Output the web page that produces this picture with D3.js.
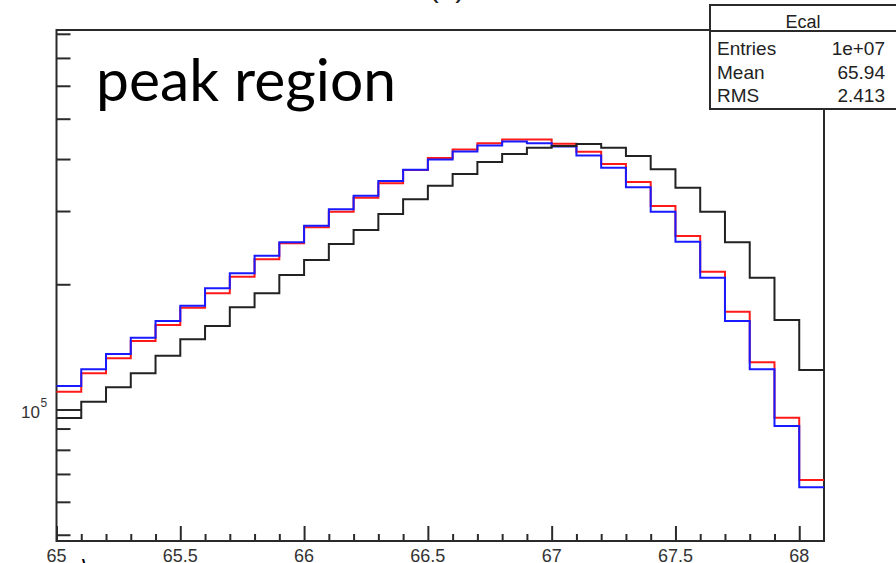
<!DOCTYPE html>
<html>
<head>
<meta charset="utf-8">
<script src="https://cdn.jsdelivr.net/npm/d3@7"></script>
<style>
  html, body { margin: 0; padding: 0; background: #fff; }
  svg { display: block; }
</style>
</head>
<body>
<svg id="chart" width="896" height="563"></svg>
<script>
// ---- data ----
const binStart = 65.0;
const binWidth = 0.1;
const blackCounts = [95400,104400,113100,122200,134700,147500,158700,176100,190200,210600,228700,249900,270100,295100,320100,345100,368300,393600,411300,425900,429900,434700,425900,406900,377900,341400,298900,252200,207400,164100,124500];
const redCounts   = [110400,122200,132800,146100,159600,175700,190200,208600,229600,250900,274200,298900,322900,349800,376400,402300,421700,436400,445700,445700,435400,416600,389100,352300,308500,261300,214400,171800,129900,95600,67700];
const blueCounts  = [113900,124900,136000,148800,163200,177600,195600,212600,234200,252200,276600,302900,326500,354200,377000,399000,417100,431100,440800,436400,428800,408000,381300,342100,298900,253100,207400,163200,124900,91300,65000];
const xMajorTicks = [65, 65.5, 66, 66.5, 67, 67.5, 68];
const xTickLabels = ["65", "65.5", "66", "66.5", "67", "67.5", "68"];
const yMinorTicks = [5e4,6e4,7e4,8e4,9e4,2e5,3e5,4e5,5e5,6e5,7e5,8e5];
const yMajorTicks = [1e5];
const statsTitle = "Ecal";
const statsNames = ["Entries", "Mean", "RMS"];
const statsValues = ["1e+07", "65.94", "2.413"];
const overlayText = "peak region";

// ---- layout ----
const L = 56.5, R = 824, T = 30, B = 541;
const svg = d3.select("#chart");
const x = d3.scaleLinear().domain([65, 68.1]).range([L, R]);
const y = d3.scaleLog().domain([48300, 817000]).range([B, T]);
const frameColor = "#2a2a2a";

// stray fragment of a cut-off title
svg.append("text").attr("x", 447).attr("y", -3).attr("text-anchor", "middle")
  .attr("font-family", "Liberation Sans, Arial, sans-serif").attr("font-size", 30)
  .attr("fill", "#222").text("(a)");

// frame
svg.append("rect").attr("x", L).attr("y", T).attr("width", R - L).attr("height", B - T)
  .attr("fill", "none").attr("stroke", frameColor).attr("stroke-width", 2);

// x ticks
const xMinor = d3.range(31).map(i => +(65 + i * 0.1).toFixed(1)).filter(v => !xMajorTicks.includes(v));
const gxm = svg.append("g").attr("transform", `translate(0,${B})`)
  .call(d3.axisTop(x).tickValues(xMinor).tickSize(7).tickFormat(""));
const gxM = svg.append("g").attr("transform", `translate(0,${B})`)
  .call(d3.axisTop(x).tickValues(xMajorTicks).tickSize(15).tickFormat(""));
[gxm, gxM].forEach(g => {
  g.select(".domain").remove();
  g.selectAll(".tick line").attr("stroke", frameColor).attr("stroke-width", 2);
});
svg.append("g").selectAll("text").data(xMajorTicks).join("text")
  .attr("x", d => x(d)).attr("y", 562).attr("text-anchor", "middle")
  .attr("font-family", "Liberation Sans, Arial, sans-serif").attr("font-size", 18)
  .attr("fill", "#333").text((d, i) => xTickLabels[i]);

// y ticks
const gym = svg.append("g").attr("transform", `translate(${L},0)`)
  .call(d3.axisRight(y).tickValues(yMinorTicks).tickSize(14).tickFormat(""));
const gyM = svg.append("g").attr("transform", `translate(${L},0)`)
  .call(d3.axisRight(y).tickValues(yMajorTicks).tickSize(25).tickFormat(""));
[gym, gyM].forEach(g => {
  g.select(".domain").remove();
  g.selectAll(".tick line").attr("stroke", frameColor).attr("stroke-width", 2);
});
yMajorTicks.forEach(v => {
  svg.append("text").attr("x", 40).attr("y", y(v) + 8).attr("text-anchor", "end")
    .attr("font-family", "Liberation Sans, Arial, sans-serif").attr("font-size", 17).attr("fill", "#333")
    .text("10");
  svg.append("text").attr("x", 40.5).attr("y", y(v) - 3)
    .attr("font-family", "Liberation Sans, Arial, sans-serif").attr("font-size", 12).attr("fill", "#333")
    .text(String(Math.round(Math.log10(v))));
});

// histograms
function stepPoints(counts) {
  const pts = [];
  counts.forEach((c, i) => {
    const x0 = binStart + i * binWidth, x1 = binStart + (i + 1) * binWidth;
    pts.push([x0, c], [x1, c]);
  });
  return pts;
}
const line = d3.line().x(d => x(d[0])).y(d => y(d[1]));
const series = [
  {counts: redCounts, color: "#ff1a1a"},
  {counts: blueCounts, color: "#1a1aff"},
  {counts: blackCounts, color: "#222"}
];
svg.append("g").selectAll("path").data(series).join("path")
  .attr("d", d => line(stepPoints(d.counts)))
  .attr("fill", "none").attr("stroke", d => d.color).attr("stroke-width", 2)
  .attr("stroke-linejoin", "miter");

// stats box
const sb = svg.append("g");
sb.append("rect").attr("x", 710).attr("y", 5).attr("width", 200).attr("height", 104)
  .attr("fill", "#fff").attr("stroke", frameColor).attr("stroke-width", 2);
sb.append("line").attr("x1", 710).attr("x2", 910).attr("y1", 31).attr("y2", 31)
  .attr("stroke", frameColor).attr("stroke-width", 2);
sb.append("text").attr("x", 803).attr("y", 28).attr("text-anchor", "middle")
  .attr("font-family", "Liberation Sans, Arial, sans-serif").attr("font-size", 18).attr("fill", "#222")
  .text(statsTitle);
const rowY = [55, 78.5, 101.5];
statsNames.forEach((n, i) => {
  sb.append("text").attr("x", 717).attr("y", rowY[i])
    .attr("font-family", "Liberation Sans, Arial, sans-serif").attr("font-size", 19).attr("fill", "#222").text(n);
  sb.append("text").attr("x", 885).attr("y", rowY[i]).attr("text-anchor", "end")
    .attr("font-family", "Liberation Sans, Arial, sans-serif").attr("font-size", 19).attr("fill", "#222").text(statsValues[i]);
});

// overlay annotation
const ov = svg.append("text").attr("x", 96).attr("y", 101)
  .attr("font-family", "Lato, 'Open Sans', sans-serif").attr("font-size", 54).attr("fill", "#000")
  .text(overlayText);
const w = ov.node().getComputedTextLength();
ov.attr("font-size", 54 * 300 / w);

// stray mark near bottom-left
svg.append("text").attr("x", 82).attr("y", 578)
  .attr("font-family", "Liberation Sans, Arial, sans-serif").attr("font-size", 26).attr("fill", "#000")
  .text("\\");
</script>
</body>
</html>
